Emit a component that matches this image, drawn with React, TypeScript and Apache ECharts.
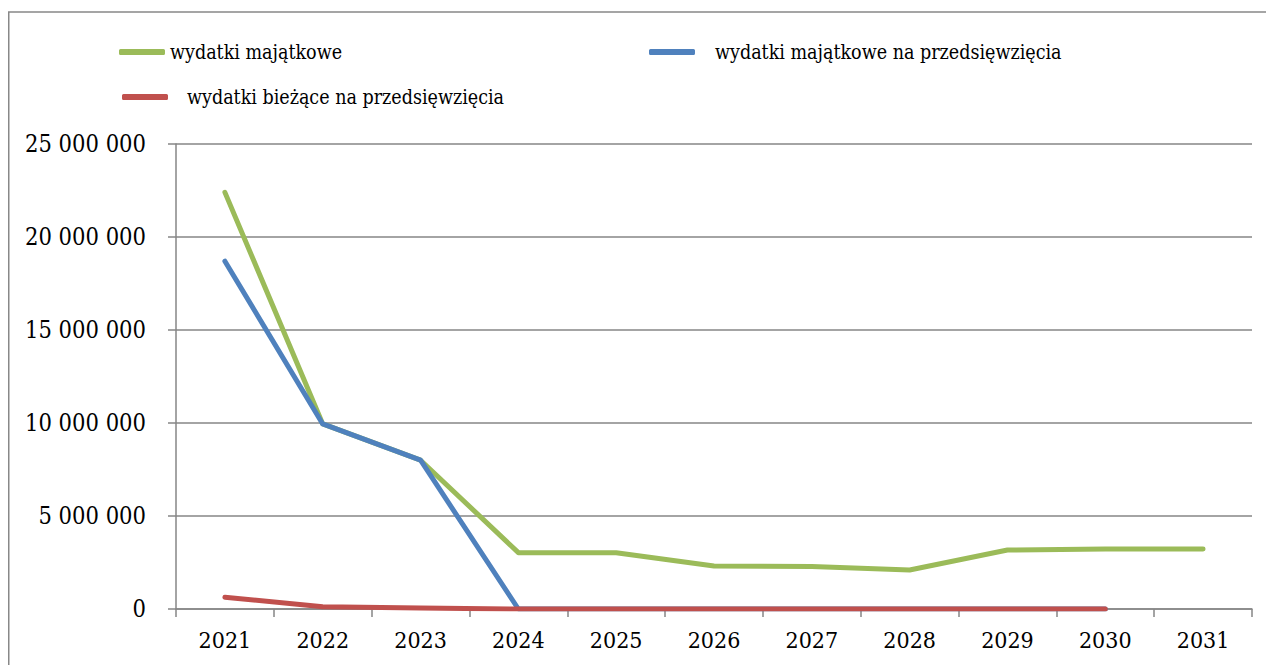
import React, { useEffect, useRef } from "react";
import * as echarts from "echarts";

const years = ["2021", "2022", "2023", "2024", "2025", "2026", "2027", "2028", "2029", "2030", "2031"];
const wydatkiMajatkowe = [22400000, 9950000, 8000000, 3030000, 3020000, 2310000, 2290000, 2100000, 3170000, 3220000, 3230000];
const wydatkiMajatkoweNaPrzedsiewziecia = [18700000, 9950000, 8000000, 0, 0, 0, 0, 0, 0, 0, null];
const wydatkiBiezaceNaPrzedsiewziecia = [630000, 120000, 60000, 0, 0, 0, 0, 0, 0, 0, null];
const seriesNames = ["wydatki majątkowe", "wydatki majątkowe na przedsięwzięcia", "wydatki bieżące na przedsięwzięcia"];

const FONT = "DejaVu Serif Condensed, DejaVu Serif";

function fmt(v: number) {
  return String(v).replace(/\B(?=(\d{3})+(?!\d))/g, " ");
}

export default function App() {
  const ref = useRef<HTMLDivElement>(null);
  useEffect(() => {
    document.documentElement.style.overflow = "hidden";
    const chart = echarts.init(ref.current!, null, { renderer: "svg" });
    const legendText = { fontFamily: FONT, fontSize: 19.5, color: "#000" };
    const legendBase = {
      orient: "horizontal",
      icon: "roundRect",
      itemWidth: 46,
      itemHeight: 6,
      padding: 0,
    };
    chart.setOption({
      animation: false,
      backgroundColor: "#fff",
      textStyle: { fontFamily: FONT },
      color: ["#9BBB59", "#4F81BD", "#C0504D"],
      graphic: [
        {
          type: "rect",
          shape: { x: 0.75, y: 4, width: 2000, height: 2000 },
          style: { fill: "none", stroke: "#888", lineWidth: 1.5 },
          silent: true,
        },
      ],
      legend: [
        { ...legendBase, data: [seriesNames[0]], left: 111, top: 34, textStyle: { ...legendText } },
        { ...legendBase, data: [seriesNames[1]], left: 641, top: 34, textStyle: { ...legendText, padding: [0, 0, 0, 15] } },
        { ...legendBase, data: [seriesNames[2]], left: 114, top: 79, textStyle: { ...legendText, padding: [0, 0, 0, 14] } },
      ],
      grid: { left: 168, top: 136, right: 22, bottom: 56, containLabel: false, outerBoundsMode: "none" },
      xAxis: {
        type: "category",
        data: years,
        boundaryGap: true,
        axisLine: { lineStyle: { color: "#868686", width: 1.5 } },
        axisTick: { show: true, length: 8, inside: false, lineStyle: { color: "#868686", width: 1.5 } },
        axisLabel: { fontFamily: FONT, fontSize: 23, color: "#000", margin: 19 },
        splitLine: { show: false },
      },
      yAxis: {
        type: "value",
        min: 0,
        max: 25000000,
        interval: 5000000,
        axisLine: { show: true, lineStyle: { color: "#868686", width: 1.5 } },
        axisTick: { show: true, length: 8, lineStyle: { color: "#868686", width: 1.5 } },
        axisLabel: { fontFamily: FONT, fontSize: 23.5, color: "#000", margin: 30, formatter: (v: number) => fmt(v) },
        splitLine: { show: true, lineStyle: { color: "#868686", width: 1.5 } },
      },
      series: [
        { name: seriesNames[0], type: "line", data: wydatkiMajatkowe, symbol: "none", lineStyle: { width: 5, cap: "round", join: "round" } },
        { name: seriesNames[1], type: "line", data: wydatkiMajatkoweNaPrzedsiewziecia, symbol: "none", lineStyle: { width: 5, cap: "round", join: "round" } },
        { name: seriesNames[2], type: "line", data: wydatkiBiezaceNaPrzedsiewziecia, symbol: "none", lineStyle: { width: 5, cap: "round", join: "round" } },
      ],
    });
    return () => chart.dispose();
  }, []);
  return <div ref={ref} style={{ width: 1266, height: 657 }} />;
}
